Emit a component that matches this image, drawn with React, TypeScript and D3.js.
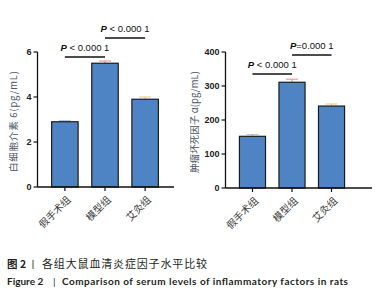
import React from "react";
import * as d3 from "d3";

const groups = ["假手术组", "模型组", "艾灸组"];
const il6Values = [2.9, 5.5, 3.9];
const il6Errors = [0.05, 0.1, 0.1];
const il6Ticks = [0, 2, 4, 6];
const tnfValues = [152, 311, 241];
const tnfErrors = [5, 9, 6];
const tnfTicks = [0, 100, 200, 300, 400];
const errColors = ["#9fc8d8", "#e58a8a", "#e0c97a"];
const il6Sig = ["P < 0.000 1", "P < 0.000 1"];
const tnfSig = ["P < 0.000 1", "P=0.000 1"];

const CJK = "'Noto Sans CJK SC', sans-serif";
const SANS = "'Liberation Sans', Arial, sans-serif";

type PanelProps = {
  x0: number; x1: number; yTop: number; yBot: number; max: number;
  values: number[]; errors: number[]; ticks: number[]; label: string; labelX: number;
  labelLen: number; sig: string[]; sigY: number[]; axisEnd: number;
};

function SigText({ x, y, text }: { x: number; y: number; text: string }) {
  const rest = text.slice(1);
  return (
    <text x={x} y={y} textAnchor="middle" fontFamily={SANS} fontSize={9.5} fill="#111">
      <tspan fontStyle="italic" fontWeight="bold">P</tspan>
      <tspan>{rest}</tspan>
    </text>
  );
}

function Panel(p: PanelProps) {
  const y = d3.scaleLinear().domain([0, p.max]).range([p.yBot, p.yTop]);
  const x = d3.scaleBand().domain(groups).range([p.x0, p.x1]).paddingInner(0.34).paddingOuter(0.34);
  const bw = x.bandwidth();
  const cx = (g: string) => (x(g) as number) + bw / 2;
  const axisX = p.x0 - 0.5;
  return (
    <g>
      {groups.map((g, i) => {
        const top = y(p.values[i]);
        const et = y(p.values[i] + p.errors[i]);
        return (
          <g key={g}>
            <line x1={cx(g)} x2={cx(g)} y1={top} y2={et} stroke={errColors[i]} strokeWidth={1} />
            <line x1={cx(g) - 6} x2={cx(g) + 6} y1={et} y2={et} stroke={errColors[i]} strokeWidth={1} />
            <rect x={x(g)} y={top} width={bw} height={p.yBot - top} fill="#4f84c4" stroke="#1b1b1b" strokeWidth={1.2} />
          </g>
        );
      })}
      <line x1={axisX} x2={axisX} y1={p.yTop} y2={p.yBot} stroke="#111" strokeWidth={1.3} />
      <line x1={axisX} x2={p.axisEnd} y1={p.yBot} y2={p.yBot} stroke="#111" strokeWidth={1.3} />
      {p.ticks.map((t) => (
        <g key={t}>
          <line x1={axisX - 4} x2={axisX} y1={y(t)} y2={y(t)} stroke="#111" strokeWidth={1.2} />
          <text x={axisX - 6} y={y(t)} dy="0.35em" textAnchor="end" fontFamily={SANS} fontSize={9} fontWeight="bold" fill="#222">{t}</text>
        </g>
      ))}
      {groups.map((g) => (
        <g key={g}>
          <line x1={cx(g)} x2={cx(g)} y1={p.yBot} y2={p.yBot + 4} stroke="#111" strokeWidth={1.2} />
          <text transform={`translate(${cx(g) + 4},${p.yBot + 11}) rotate(-45)`} textAnchor="end" dy="0.35em" fontFamily={CJK} fontSize={10} fill="#3a3a3a">{g}</text>
        </g>
      ))}
      <text transform={`translate(${p.labelX},${(p.yTop + p.yBot) / 2 + 2}) rotate(-90)`} textAnchor="middle" fontFamily={CJK} fontSize={9.5} fill="#4a5566" textLength={p.labelLen}>{p.label}</text>
      {[0, 1].map((k) => {
        const a = cx(groups[k]);
        const b = cx(groups[k + 1]);
        return (
          <g key={k}>
            <line x1={a} x2={b} y1={p.sigY[k]} y2={p.sigY[k]} stroke="#111" strokeWidth={1.3} />
            <SigText x={(a + b) / 2} y={p.sigY[k] - 6} text={p.sig[k]} />
          </g>
        );
      })}
    </g>
  );
}

export default function App() {
  return (
    <svg width={387} height={300} style={{ position: "absolute", left: 0, top: 0, background: "#fff" }}>
      <Panel x0={38} x1={172} yTop={52} yBot={187} max={6} values={il6Values} errors={il6Errors}
        ticks={il6Ticks} label="白细胞介素 6(pg/mL)" labelX={17} labelLen={101} sig={il6Sig} sigY={[57, 38]} axisEnd={174} />
      <Panel x0={226} x1={358} yTop={52} yBot={188} max={400} values={tnfValues} errors={tnfErrors}
        ticks={tnfTicks} label="肿瘤坏死因子 α(pg/mL)" labelX={198} labelLen={102} sig={tnfSig} sigY={[74, 55]} axisEnd={372} />
      <text x={7} y={268} fontFamily={CJK} fontSize={10.5} fontWeight="bold" fill="#231f20">图 2</text>
      <text x={28} y={268} fontFamily={CJK} fontSize={10} fill="#231f20">丨</text>
      <text x={42} y={268} fontFamily={CJK} fontSize={11} fill="#231f20" textLength={165}>各组大鼠血清炎症因子水平比较</text>
      <text x={7} y={285} fontFamily="Lato, 'Open Sans', sans-serif" fontSize={10} fontWeight="bold" fill="#231f20">Figure 2</text>
      <text x={53} y={285} fontFamily="Lato, sans-serif" fontSize={10} fill="#231f20">|</text>
      <text x={62} y={285} fontFamily="Lato, 'Open Sans', sans-serif" fontSize={10} fontWeight="bold" fill="#231f20" textLength={286}>Comparison of serum levels of inflammatory factors in rats</text>
    </svg>
  );
}
